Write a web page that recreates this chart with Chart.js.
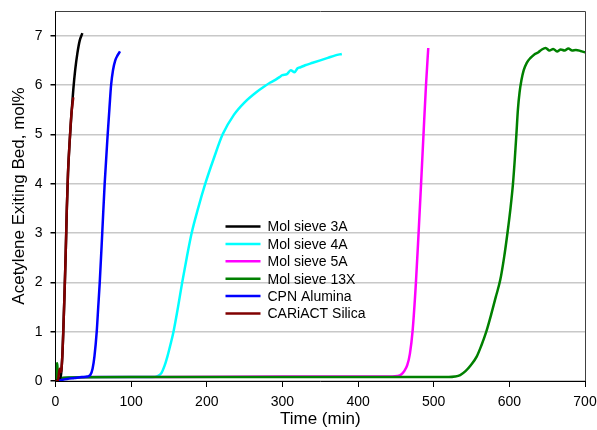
<!DOCTYPE html>
<html><head><meta charset="utf-8">
<script src="https://cdn.jsdelivr.net/npm/chart.js@4/dist/chart.umd.min.js"></script>
<style>html,body{margin:0;padding:0;background:#fff}#wrap{width:597px;height:430px;position:relative}</style>
</head><body><div id="wrap"><canvas id="c" width="597" height="430"></canvas></div>
<script>
const seriesNames = ["Mol sieve 3A","Mol sieve 4A","Mol sieve 5A","Mol sieve 13X","CPN Alumina","CARiACT Silica"];
const seriesColors = ["#000000","#00ffff","#ff00ff","#008000","#0000ff","#800000"];
const xTicks = [0,100,200,300,400,500,600,700];
const yTicks = [0,1,2,3,4,5,6,7];

const sieve3A_x = [0,4,7,9,10.5,12,13.5,15,16.5,18.5,21,23.5,26,29,32,35.5];
const sieve3A_y = [0,0.02,0.1,0.5,1.1,1.8,2.6,3.5,4.2,4.8,5.4,5.9,6.3,6.65,6.9,7.05];

const sieve4A_x = [6,20,60,100,128,135,140,144,148,152,156,162,167.5,173.5,180,188.5,198,209,221,236,250,265,276,284,290,296,300,306,311,316,320,324,330,340,350,360,370,378.5];
const sieve4A_y = [0.05,0.07,0.08,0.08,0.08,0.1,0.16,0.3,0.5,0.74,1.0,1.5,2.0,2.5,3.0,3.5,4.0,4.5,5.0,5.4,5.65,5.85,5.97,6.05,6.1,6.16,6.2,6.22,6.3,6.26,6.34,6.36,6.4,6.45,6.5,6.55,6.6,6.63];

const sieve5A_x = [10,50,150,300,420,445,452,457,461,465,468.5,472,476.5,480,483.3,486.5,489.8,492.8];
const sieve5A_y = [0.06,0.08,0.08,0.09,0.09,0.09,0.1,0.13,0.2,0.32,0.55,1.0,2.0,3.0,4.0,5.0,6.0,6.75];

const sieve13X_x = [0,1.5,2,2.5,3,4,6,20,100,300,500,520,528,535,542,549,557,563,569.5,576,582,588,593,597.5,601.5,604.8,607.2,609.3,611.3,613.5,616,619,623,628,633,638,643,648,653,658,663,668,673,678,683,688,694,700];
const sieve13X_y = [0,0,0.35,0.36,0.1,0.05,0.06,0.07,0.08,0.08,0.08,0.08,0.09,0.12,0.2,0.32,0.5,0.72,1.0,1.35,1.7,2.05,2.5,3.0,3.5,4.0,4.5,5.0,5.5,5.85,6.1,6.3,6.45,6.55,6.62,6.66,6.72,6.75,6.7,6.73,6.68,6.72,6.7,6.74,6.7,6.71,6.69,6.66];

const alumina_x = [3,8,15,25,35,42,46,49,51.5,54.5,56.5,58.5,61.8,65,69,71.2,73.5,76,79,82,85.3];
const alumina_y = [0,0.02,0.04,0.06,0.08,0.09,0.12,0.25,0.5,1.0,1.5,2.0,3.0,4.0,5.0,5.5,6.0,6.3,6.5,6.6,6.68];

const silica_x = [0,3,4.5,5.5,6.5,7.5,9,10.5,12,13.5,15,16.5,18.5,21,23.5];
const silica_y = [0,0,0.15,0.25,0.18,0.2,0.5,1.1,1.8,2.6,3.5,4.2,4.8,5.4,5.75];

const allX = [sieve3A_x,sieve4A_x,sieve5A_x,sieve13X_x,alumina_x,silica_x];
const allY = [sieve3A_y,sieve4A_y,sieve5A_y,sieve13X_y,alumina_y,silica_y];
const drawOrder = [2,5,4,3,1,0];

const datasets = seriesNames.map((n,i)=>({
  label:n,
  data: allX[i].map((x,j)=>({x:x,y:allY[i][j]})),
  borderColor: seriesColors[i],
  backgroundColor: seriesColors[i],
  borderWidth: 2.5,
  pointRadius: 0,
  cubicInterpolationMode: 'monotone',
  order: drawOrder[i]
}));

const FONT = '"Liberation Sans", Arial, sans-serif';

function zeroPad(s){ s.paddingTop = 0; s.paddingBottom = 0; s.paddingLeft = 0; s.paddingRight = 0; }

const frame = {
  id:'frame',
  afterDatasetsDraw(chart){
    const a = chart.chartArea, ctx = chart.ctx;
    ctx.save();
    ctx.strokeStyle = '#404040'; ctx.lineWidth = 1;
    ctx.beginPath();
    ctx.moveTo(a.left, a.top+0.5); ctx.lineTo(a.right+0.5, a.top+0.5); ctx.lineTo(a.right+0.5, a.bottom);
    ctx.stroke();
    const lx = a.left + 170, ly = a.top + 215.5, step = 17.4;
    ctx.font = '14px ' + FONT;
    ctx.textBaseline = 'middle';
    seriesNames.forEach((n,i)=>{
      const y = ly + i*step;
      ctx.strokeStyle = seriesColors[i]; ctx.lineWidth = 2.5;
      ctx.beginPath(); ctx.moveTo(lx, y); ctx.lineTo(lx+35, y); ctx.stroke();
      ctx.fillStyle = '#000';
      ctx.fillText(n, lx+42, y+1);
    });
    ctx.restore();
  }
};

new Chart(document.getElementById('c'), {
  type:'line',
  data:{datasets},
  options:{
    responsive:false, animation:false,
    layout:{padding:{left:0,right:12,top:11,bottom:0}},
    plugins:{legend:{display:false}, tooltip:{enabled:false}},
    scales:{
      x:{
        type:'linear', min:0, max:700,
        afterBuildTicks(s){ s.ticks = xTicks.map(v=>({value:v})); },
        afterFit(s){ s.height = 49; zeroPad(s); },
        grid:{drawOnChartArea:false, drawTicks:true, tickLength:6, tickColor:'#000'},
        border:{color:'#000', width:1},
        ticks:{color:'#000', font:{family:FONT, size:14}, padding:7, maxRotation:0},
        title:{display:true, text:'Time (min)', color:'#000', font:{family:FONT, size:17}, padding:{top:0,bottom:0}}
      },
      y:{
        type:'linear', min:0, max:7.5,
        afterBuildTicks(s){ s.ticks = yTicks.map(v=>({value:v})); },
        afterFit(s){ s.width = 55.5; zeroPad(s); },
        grid:{color:'#c8c8c8', lineWidth:1.5, drawTicks:true, tickLength:5, tickColor:'#000'},
        border:{color:'#000', width:1},
        ticks:{color:'#000', font:{family:FONT, size:14}, padding:8},
        title:{display:true, text:'Acetylene Exiting Bed, mol%', color:'#000', font:{family:FONT, size:17}, padding:{top:9,bottom:0}}
      }
    }
  },
  plugins:[frame]
});
</script></body></html>
